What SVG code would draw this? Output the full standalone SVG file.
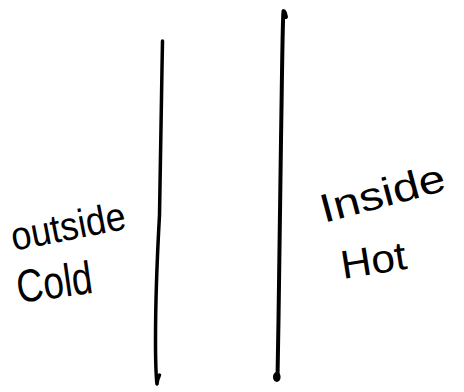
<svg xmlns="http://www.w3.org/2000/svg" width="464" height="392" viewBox="0 0 464 392">
<style>
.lbl{font-family:"Liberation Sans","DejaVu Sans",sans-serif;fill:#000;text-anchor:middle}
.wall{fill:none;stroke:#000;stroke-linecap:round;stroke-linejoin:round}
</style>
<rect width="464" height="392" fill="#fff"/>
<g id="connectors">
<path id="wall-outer" class="wall" stroke-width="3.5" d="M162.5,41 C161.5,100 160,160 159.5,215 C157,260 155.5,300 155.5,340 C155.5,362 156,376 157,384 M157,384 C157.5,380 158.5,377 159.5,375"/>
<path id="wall-inner" class="wall" stroke-width="4" d="M286,17 C285,13 284.5,11 283.5,11 C282.5,20 282,80 281,140 C280,200 279.5,260 278.5,320 C278,350 277.5,368 277.5,378"/>
<ellipse cx="276.8" cy="377" rx="3.8" ry="5" fill="#000"/>
</g>
<g id="outside">
<text class="lbl" x="68" y="240" font-size="40" textLength="116" lengthAdjust="spacingAndGlyphs" transform="rotate(-11 68 226)">outside</text>
</g>
<g id="cold">
<text class="lbl" x="54" y="298" font-size="46" textLength="76" lengthAdjust="spacingAndGlyphs" transform="rotate(-8 54 280)">Cold</text>
</g>
<g id="inside">
<text class="lbl" x="382" y="207" font-size="40" textLength="128" lengthAdjust="spacingAndGlyphs" transform="rotate(-15 382 192)">Inside</text>
</g>
<g id="hot">
<text class="lbl" x="373" y="274" font-size="40" textLength="66" lengthAdjust="spacingAndGlyphs" transform="rotate(-9 373 258)">Hot</text>
</g>
</svg>
